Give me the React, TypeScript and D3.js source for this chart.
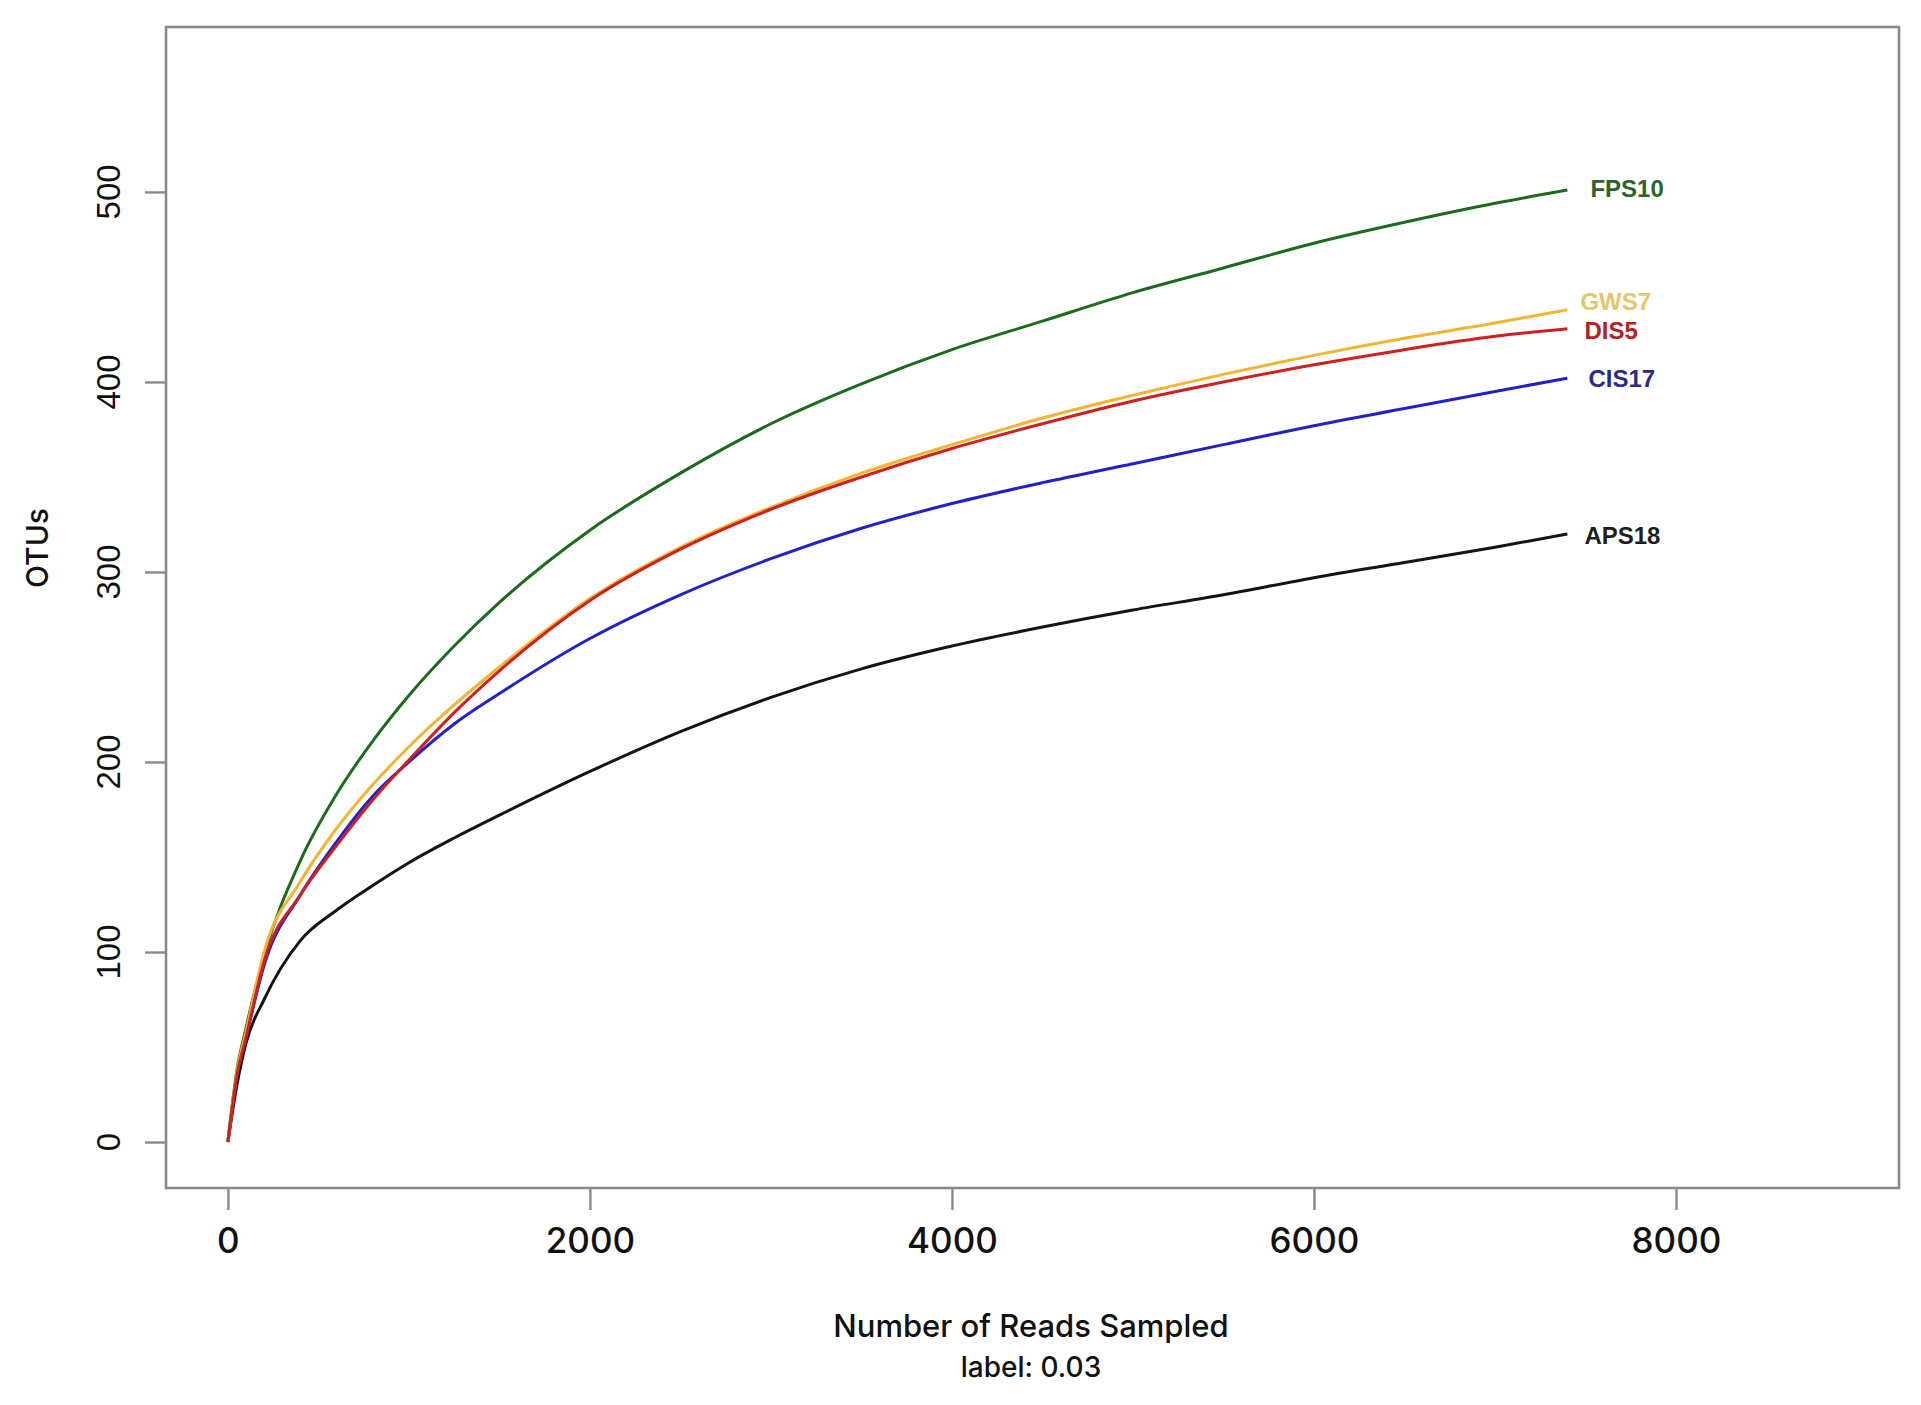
import React, { useEffect, useRef } from 'react';
import * as d3 from 'd3';

// reads sampled (shared x grid for every rarefaction curve)
const readsSampled = [0, 50, 100, 200, 400, 600, 800, 1000, 1250, 1500, 2000, 2500, 3000, 3500, 4000, 4500, 5000, 5500, 6000, 6500, 7000, 7400];

const fps10 = [0, 38, 60, 98, 148, 183, 211, 235, 261, 284, 322, 352, 378, 399, 417, 432, 447, 460, 473, 484, 494, 501];
const gws7 = [0, 37, 58, 100, 137, 165, 188, 208, 230, 250, 286, 313, 334, 352, 367, 381, 393, 404, 414, 423, 431, 438];
const dis5 = [0, 35, 55, 95, 130, 156, 180, 201, 226, 248, 285, 312, 333, 350, 365, 378, 390, 400, 409, 417, 424, 428];
const cis17 = [0, 35, 55, 93, 130, 158, 182, 200, 220, 236, 265, 288, 307, 323, 336, 347, 357, 367, 377, 386, 395, 402];
const aps18 = [0, 30, 52, 75, 106, 122, 135, 147, 160, 172, 195, 216, 234, 249, 261, 271, 280, 288, 297, 305, 313, 320];

const sampleNames = ['APS18', 'FPS10', 'CIS17', 'GWS7', 'DIS5'];
const sampleValues = [aps18, fps10, cis17, gws7, dis5];
const lineColors = ['#141414', '#1c6a1c', '#2121c9', '#f2b531', '#cf2020'];
const labelColors = ['#1e1e1e', '#2b632b', '#2a2a8c', '#e6c56c', '#b02226'];

const xTicks = [0, 2000, 4000, 6000, 8000];
const yTicks = [0, 100, 200, 300, 400, 500];

const W = 1921;
const H = 1405;

const App: React.FC = () => {
  const svgRef = useRef<SVGSVGElement>(null);

  useEffect(() => {
    if (!svgRef.current) return;
    const svg = d3.select(svgRef.current);
    svg.selectAll('*').remove();

    const left = 166, right = 1899, top = 27, bottom = 1188;
    const x = d3.scaleLinear().domain([-342, 9232]).range([left, right]);
    const y = d3.scaleLinear().domain([-24.2, 586.8]).range([bottom, top]);

    svg.append('rect').attr('width', W).attr('height', H).attr('fill', '#fff');

    // curves
    const line = d3.line<number>()
      .x((_, i) => x(readsSampled[i]))
      .y(d => y(d))
      .curve(d3.curveMonotoneX);

    sampleValues.forEach((vals, k) => {
      svg.append('path')
        .attr('d', line(vals))
        .attr('fill', 'none')
        .attr('stroke', lineColors[k])
        .attr('stroke-width', 3)
        .attr('stroke-linejoin', 'round');
    });

    // labels at the end of each curve
    const labelNudge: Record<string, [number, number]> = {
      FPS10: [23, -2], GWS7: [13, -8], DIS5: [17, 2], CIS17: [21, 0], APS18: [17, 2]
    };
    sampleNames.forEach((name, k) => {
      const vals = sampleValues[k];
      const last = vals.length - 1;
      const [dx, dy] = labelNudge[name];
      svg.append('text')
        .attr('x', x(readsSampled[last]) + dx)
        .attr('y', y(vals[last]) + dy)
        .attr('dominant-baseline', 'central')
        .attr('font-family', 'Liberation Sans, Arial, sans-serif')
        .attr('font-weight', 'bold')
        .attr('font-size', 24)
        .attr('fill', labelColors[k])
        .text(name);
    });

    // box
    svg.append('rect')
      .attr('x', left).attr('y', top)
      .attr('width', right - left).attr('height', bottom - top)
      .attr('fill', 'none')
      .attr('stroke', '#8a8a8a')
      .attr('stroke-width', 2.6);

    // x axis
    const xAxis = svg.append('g').attr('transform', `translate(0,${bottom})`)
      .call(d3.axisBottom(x).tickValues(xTicks).tickSize(22).tickPadding(18).tickFormat(d3.format('d')));
    xAxis.select('.domain').remove();
    xAxis.selectAll('line').attr('stroke', '#8a8a8a').attr('stroke-width', 2.4);
    xAxis.selectAll('text')
      .attr('font-family', 'Inter, sans-serif')
      .attr('font-weight', 500)
      .attr('font-size', 35)
      .attr('fill', '#111');

    // y axis
    const yAxis = svg.append('g').attr('transform', `translate(${left},0)`)
      .call(d3.axisLeft(y).tickValues(yTicks).tickSize(21).tickFormat(d3.format('d')));
    yAxis.select('.domain').remove();
    yAxis.selectAll('line').attr('stroke', '#8a8a8a').attr('stroke-width', 2.4);
    yAxis.selectAll('text').remove();
    yTicks.forEach(t => {
      svg.append('text')
        .attr('transform', `translate(120,${y(t)}) rotate(-90)`)
        .attr('text-anchor', 'middle')
        .attr('font-family', 'Liberation Sans, Arial, sans-serif')
        .attr('font-size', 33)
        .attr('fill', '#111')
        .text(t);
    });

    // titles
    svg.append('text')
      .attr('transform', 'translate(48,548) rotate(-90)')
      .attr('text-anchor', 'middle')
      .attr('font-family', 'Inter, sans-serif')
      .attr('font-weight', 500)
      .attr('font-size', 30)
      .attr('fill', '#111')
      .text('OTUs');

    svg.append('text')
      .attr('x', 1031).attr('y', 1337)
      .attr('text-anchor', 'middle')
      .attr('font-family', 'Inter, sans-serif')
      .attr('font-weight', 500)
      .attr('font-size', 31)
      .attr('fill', '#111')
      .text('Number of Reads Sampled');

    svg.append('text')
      .attr('x', 1031).attr('y', 1377)
      .attr('text-anchor', 'middle')
      .attr('font-family', 'Inter, sans-serif')
      .attr('font-weight', 500)
      .attr('font-size', 28)
      .attr('fill', '#111')
      .text('label: 0.03');
  }, []);

  return (
    <div style={{ position: 'absolute', left: 0, top: 0 }}>
      <svg ref={svgRef} width={W} height={H} style={{ display: 'block' }}></svg>
    </div>
  );
};

export default App;
